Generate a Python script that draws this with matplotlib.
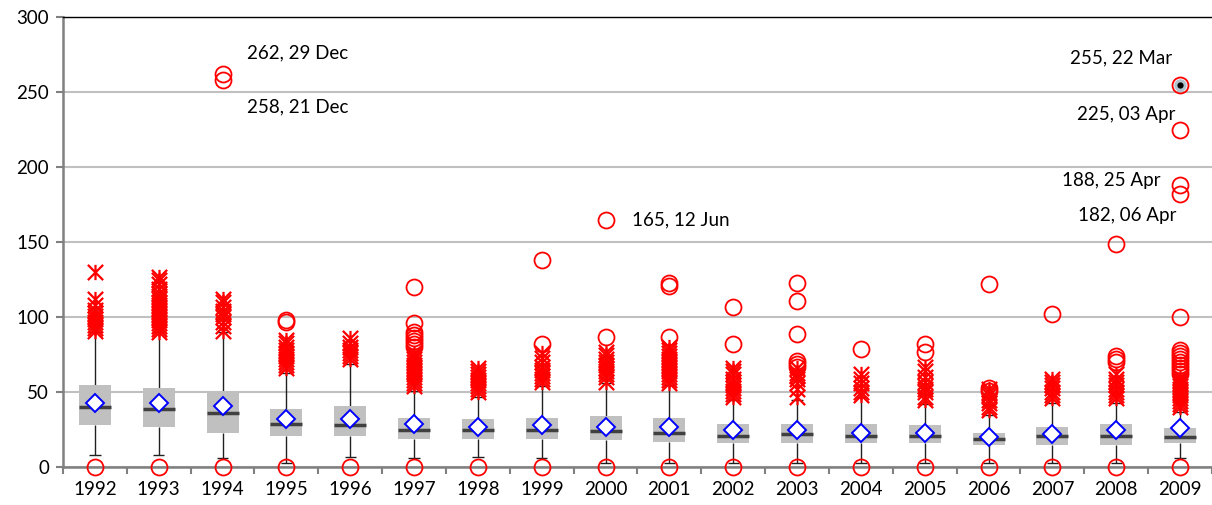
import numpy as np
import matplotlib.pyplot as plt
from matplotlib.path import Path

plt.rcParams['font.family'] = ['Lato', 'DejaVu Sans']

years = [str(y) for y in range(1992, 2010)]
q1 = [28, 27, 23, 21, 21, 19, 19, 19, 18, 17, 16, 16, 16, 16, 15, 15, 15, 16]
q3 = [55, 53, 51, 39, 41, 33, 32, 33, 34, 33, 29, 29, 29, 28, 23, 27, 29, 26]
median = [40, 39, 36, 29, 28, 25, 25, 25, 24, 23, 21, 22, 21, 21, 19, 21, 21, 20]
mean = [43, 43, 41, 32, 32, 29, 27, 28, 27, 27, 25, 25, 23, 23, 20, 22, 25, 26]
whisk_lo = [8, 8, 6, 3, 7, 6, 7, 6, 3, 3, 3, 3, 3, 3, 3, 3, 3, 6]
whisk_hi = [90, 90, 90, 63, 69, 51, 47, 54, 56, 55, 45, 45, 47, 42, 35, 43, 43, 37]
minimum = [0] * 18

# mild outliers (stars)
stars = [
    [91, 93, 95, 97, 99, 101, 103, 105, 108, 112, 130],
    [90, 92, 94, 96, 98, 100, 102, 104, 106, 108, 110, 112, 114, 116, 119, 122, 125, 127],
    [91, 94, 97, 100, 102, 104, 107, 110, 112],
    [66, 68, 70, 72, 74, 76, 78, 80, 83, 85],
    [72, 74, 76, 78, 80, 83, 86],
    [54, 56, 58, 60, 62, 64, 66, 68, 70, 72, 74, 76],
    [50, 52, 54, 56, 58, 60, 62, 64, 66],
    [57, 59, 61, 63, 65, 67, 70, 73, 76],
    [57, 60, 62, 64, 66, 68, 70, 72, 75, 77],
    [56, 58, 60, 62, 64, 66, 68, 70, 72, 74, 76, 78, 80],
    [47, 49, 51, 53, 55, 57, 59, 62, 64, 66],
    [47, 52, 56, 59, 61, 63, 66],
    [48, 50, 53, 56, 59, 62],
    [45, 47, 50, 52, 54, 57, 60, 64, 67],
    [38, 40, 43, 45, 48, 50, 52],
    [46, 48, 50, 53, 55, 57, 59],
    [46, 48, 50, 52, 55, 57, 59, 62],
    [40, 42, 44, 46, 48, 50, 52, 54, 56, 58, 60],
]
# extreme outliers (circles)
circles = [
    [], [], [258, 262], [97, 98], [],
    [80, 82, 84, 86, 88, 90, 96, 120], [], [82, 138], [87, 165],
    [87, 121, 123], [82, 107], [67, 69, 71, 89, 111, 123], [79], [77, 82],
    [51, 53, 122], [102], [70, 72, 74, 149],
    [62, 64, 66, 68, 70, 72, 74, 76, 78, 100, 182, 188, 225, 255],
]
highlight_year = 17
highlight_val = 255

labels = ['262, 29 Dec', '258, 21 Dec', '165, 12 Jun',
          '255, 22 Mar', '225, 03 Apr', '188, 25 Apr', '182, 06 Apr']
label_x = [2.39, 2.39, 8.41, 16.88, 16.92, 16.69, 16.94]
label_y = [276, 240, 165, 273, 235, 191, 168]
label_ha = ['left', 'left', 'left', 'right', 'right', 'right', 'right']

# excel style star: an x with a vertical stroke
star = Path([(-1, -1), (1, 1), (-1, 1), (1, -1), (0, -1), (0, 1)],
            [Path.MOVETO, Path.LINETO, Path.MOVETO, Path.LINETO,
             Path.MOVETO, Path.LINETO])

fig = plt.figure(figsize=(12.12, 5.05), dpi=100)
ax = fig.add_axes([63 / 1212, 38 / 505, 1 - 63 / 1212, 450 / 505])

x = np.arange(len(years))

# whiskers
ax.vlines(x, whisk_lo, q1, color='#202020', lw=1, zorder=2)
ax.vlines(x, q3, whisk_hi, color='#202020', lw=1, zorder=2)
ax.hlines(whisk_lo, x - 0.09, x + 0.09, color='#202020', lw=1, zorder=2)
ax.hlines(whisk_hi, x - 0.09, x + 0.09, color='#202020', lw=1, zorder=2)

# boxes
ax.bar(x, np.array(q3) - np.array(q1), bottom=q1, width=0.5,
       color='#c0c0c0', zorder=3)
ax.hlines(median, x - 0.25, x + 0.25, color='#404040', lw=2.5, zorder=4)

# outliers
for i in range(len(years)):
    ax.plot([i] * len(stars[i]), stars[i], ls='none', marker=star,
            ms=11, mec='red', mew=1.6, zorder=5)
    ax.plot([i] * len(circles[i]), circles[i], ls='none', marker='o',
            ms=11.5, mfc='none', mec='red', mew=1.3, zorder=6)
ax.plot(x, minimum, ls='none', marker='o', ms=11.5, mfc='none', mec='red',
        mew=1.3, zorder=6, clip_on=False)
ax.plot(highlight_year, highlight_val, ls='none', marker='o', ms=9,
        mfc='#b0c4d0', mec='none', zorder=6)
ax.plot(highlight_year, highlight_val, ls='none', marker='o', ms=4.5,
        mfc='black', mec='none', zorder=7)

# means
ax.plot(x, mean, ls='none', marker='D', ms=9, mfc='white', mec='blue',
        mew=1.4, zorder=7)

for t, tx, ty, ha in zip(labels, label_x, label_y, label_ha):
    ax.text(tx, ty, t, ha=ha, va='center', fontsize=13.5, color='black')

ax.set_xlim(-0.5, -0.5 + (1212 - 63) / 64)
ax.set_ylim(0, 300)
ax.set_yticks(range(0, 301, 50))
ax.yaxis.grid(True, color='#c0c0c0', lw=1.5)
ax.set_axisbelow(True)
ax.set_xticks(x)
ax.set_xticklabels(years)
ax.set_xticks(np.arange(-0.5, 18, 1), minor=True)
ax.tick_params(axis='x', which='major', length=0, pad=10, labelsize=13.5)
ax.tick_params(axis='x', which='minor', length=5, width=1.5, color='#808080',
               direction='out')
ax.tick_params(axis='y', length=5, width=1.5, color='#808080', labelsize=13.5,
               pad=5)

for s in ['left', 'bottom']:
    ax.spines[s].set_color('#808080')
    ax.spines[s].set_linewidth(1.8)
ax.spines['right'].set_visible(False)
ax.spines['top'].set_color('black')
ax.spines['top'].set_linewidth(1)

fig.savefig('out.png', dpi=100)
